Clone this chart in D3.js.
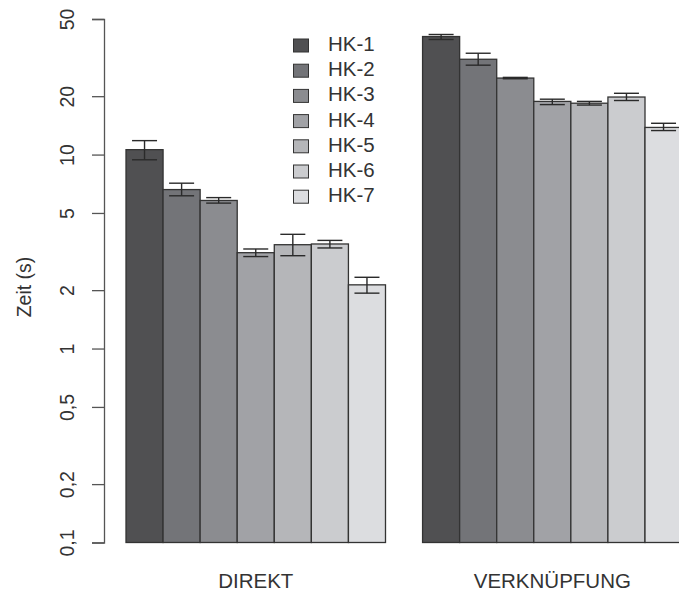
<!DOCTYPE html>
<html lang="en">
<head>
  <meta charset="UTF-8" />
  <title>Zeit pro Hauptkategorie</title>
  <script src="https://d3js.org/d3.v7.min.js"></script>
  <style>
    body { margin: 0; background: #fff; }
    svg { display: block; font-family: "Liberation Sans", Arial, sans-serif; }
  </style>
</head>
<body>
<svg width="679" height="593"></svg>
<script>
  const groups = ["DIREKT", "VERKNÜPFUNG"];
  const series = ["HK-1", "HK-2", "HK-3", "HK-4", "HK-5", "HK-6", "HK-7"];
  const colors = ["#505052", "#737478", "#8b8c90", "#a1a2a6", "#b5b6b9", "#cbcccf", "#dcdde0"];

  // mean values per group (same order as series)
  const direkt = [10.6, 6.6, 5.8, 3.12, 3.43, 3.46, 2.13];
  const verknuepfung = [40.6, 31.0, 24.8, 18.8, 18.4, 19.8, 13.8];
  // error bar ends
  const direktLo = [9.4, 6.13, 5.62, 2.98, 3.01, 3.30, 1.93];
  const direktHi = [11.8, 7.12, 6.0, 3.26, 3.88, 3.61, 2.33];
  const verknLo = [39.2, 28.9, 24.6, 18.1, 18.0, 19.0, 13.3];
  const verknHi = [41.6, 33.3, 25.0, 19.3, 18.8, 20.7, 14.5];

  const yTicks = [0.1, 0.2, 0.5, 1, 2, 5, 10, 20, 50];
  const yTickLabels = ["0,1", "0,2", "0,5", "1", "2", "5", "10", "20", "50"];

  const svg = d3.select("svg");

  const y = d3.scaleLog().domain([0.1, 50]).range([542.5, 19]);
  // bar slots: group 1 occupies [1,8], group 2 [9,16] (one bar-width gap)
  const x = d3.scaleLinear().domain([1, 15]).range([126, 645]);

  const data = [];
  const vals = [direkt, verknuepfung];
  const lows = [direktLo, verknLo];
  const highs = [direktHi, verknHi];
  groups.forEach((g, gi) => {
    series.forEach((s, si) => {
      data.push({
        group: g, key: s, color: colors[si],
        v: vals[gi][si], lo: lows[gi][si], hi: highs[gi][si],
        pos: 1 + gi * 8 + si
      });
    });
  });

  const bw = x(2) - x(1);

  svg.append("g").selectAll("rect")
    .data(data)
    .enter()
    .append("rect")
    .attr("x", d => x(d.pos))
    .attr("y", d => y(d.v))
    .attr("width", bw)
    .attr("height", d => y(0.1) - y(d.v))
    .attr("fill", d => d.color)
    .attr("stroke", "#333")
    .attr("stroke-width", 1.3);

  // error bars
  const eb = svg.append("g").attr("stroke", "#2a2a2a").attr("stroke-width", 1.4);
  data.forEach(d => {
    const cx = x(d.pos) + bw / 2;
    eb.append("line").attr("x1", cx).attr("x2", cx).attr("y1", y(d.lo)).attr("y2", y(d.hi));
    eb.append("line").attr("x1", cx - 12.5).attr("x2", cx + 12.5).attr("y1", y(d.lo)).attr("y2", y(d.lo));
    eb.append("line").attr("x1", cx - 12.5).attr("x2", cx + 12.5).attr("y1", y(d.hi)).attr("y2", y(d.hi));
  });

  // y axis
  const yAxis = svg.append("g")
    .attr("transform", "translate(104,0)")
    .call(d3.axisLeft(y).tickValues(yTicks).tickFormat((d, i) => yTickLabels[i]).tickSizeOuter(0).tickSize(12).tickPadding(0));
  yAxis.select(".domain").attr("stroke", "#555").attr("stroke-width", 1.3);
  yAxis.selectAll(".tick line").attr("stroke", "#555").attr("stroke-width", 1.3);
  yAxis.selectAll(".tick text")
    .attr("x", null)
    .attr("dy", null)
    .attr("text-anchor", "middle")
    .attr("fill", "#333")
    .style("font-size", "19.5px")
    .attr("transform", "translate(-30,0) rotate(-90)");

  svg.append("text")
    .attr("transform", "translate(31,287) rotate(-90)")
    .attr("text-anchor", "middle")
    .attr("fill", "#333")
    .style("font-size", "19.5px")
    .text("Zeit (s)");

  // group labels
  groups.forEach((g, gi) => {
    svg.append("text")
      .attr("x", x(1 + gi * 8 + 3.5))
      .attr("y", 588)
      .attr("text-anchor", "middle")
      .attr("fill", "#333")
      .style("font-size", "20.5px")
      .text(g);
  });

  // legend
  const legend = svg.append("g");
  series.forEach((s, i) => {
    const ly = 45.5 + i * 25.2;
    legend.append("rect")
      .attr("x", 293.5).attr("y", ly - 6.5)
      .attr("width", 15).attr("height", 13)
      .attr("fill", colors[i])
      .attr("stroke", "#333").attr("stroke-width", 1);
    legend.append("text")
      .attr("x", 328).attr("y", ly + 5.5)
      .attr("fill", "#333")
      .style("font-size", "20.5px")
      .text(s);
  });
</script>
</body>
</html>
